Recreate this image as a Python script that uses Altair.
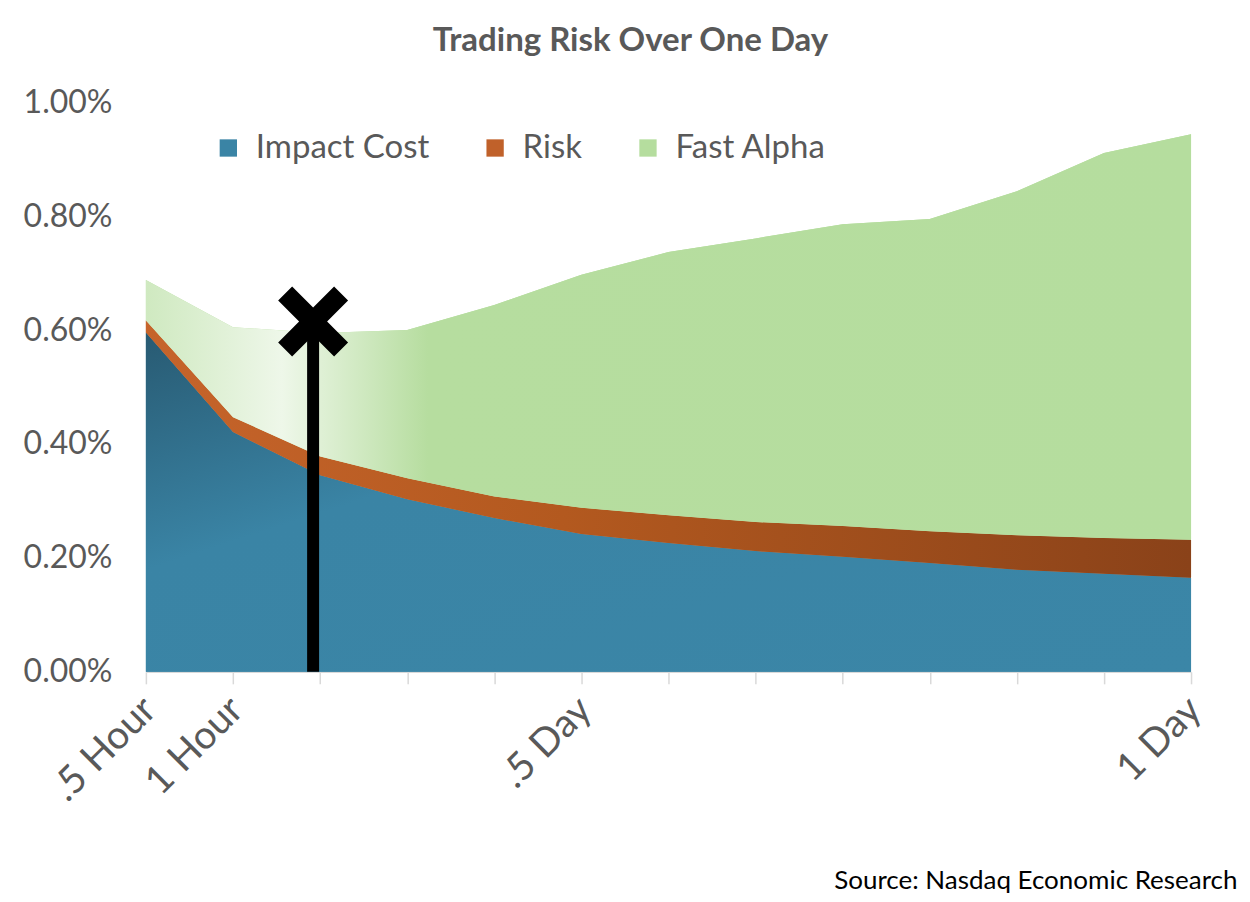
import altair as alt
import pandas as pd

# ---- data (values in percent) ----
tick_labels = [".5 Hour", "1 Hour", "", "", "", ".5 Day", "", "", "", "", "", "", "1 Day"]
impact_cost = [0.596, 0.421, 0.345, 0.303, 0.270, 0.242, 0.226, 0.212, 0.202, 0.191, 0.179, 0.172, 0.165]
risk        = [0.021, 0.026, 0.033, 0.037, 0.038, 0.046, 0.049, 0.051, 0.054, 0.056, 0.061, 0.063, 0.067]
fast_alpha  = [0.071, 0.158, 0.217, 0.260, 0.336, 0.409, 0.462, 0.498, 0.530, 0.548, 0.604, 0.676, 0.712]
series_names = ["Impact Cost", "Risk", "Fast Alpha"]
series_colors = ["#3a84a5", "#c0612a", "#b5dd9e"]
marker_pos = [1.92]
marker_top = [0.615]

# ---- build stacked table ----
rows = []
for i in range(len(tick_labels)):
    lo = 0.0
    for name, vals in zip(series_names, [impact_cost, risk, fast_alpha]):
        hi = lo + vals[i]
        rows.append({"idx": i, "series": name, "lo": lo, "hi": hi})
        lo = hi
df = pd.DataFrame(rows)
marker_df = pd.DataFrame({"idx": marker_pos, "lo": [0.0], "hi": marker_top})

grey = "#595959"
label_expr = "[" + ",".join("'" + t + "'" for t in tick_labels) + "][datum.value]"

x_enc = alt.X("idx:Q",
              scale=alt.Scale(domain=[0, 12], nice=False, zero=False),
              axis=alt.Axis(values=list(range(13)), labelExpr=label_expr, labelAngle=-45,
                            labelFontSize=39, labelColor=grey, labelFont="Lato",
                            tickSize=12, tickColor="#d9d9d9", domainColor="#d9d9d9",
                            domainWidth=1.5, tickWidth=1.5, labelOffset=-10,
                            labelOverlap=False, labelBound=False, grid=False, labelPadding=6,
                            title="Source: Nasdaq Economic Research", titleFont="Lato",
                            titleFontSize=26, titleFontWeight="normal", titleColor="#000000",
                            titleAnchor="end", titleAlign="right", titleBaseline="middle",
                            titleX=1092, titleY=209))
y_axis = alt.Axis(values=[0, 0.2, 0.4, 0.6, 0.8, 1.0],
                  labelExpr="format(datum.value, '.2f') + '%'",
                  labelFontSize=32, labelColor=grey, labelFont="Lato",
                  domain=False, ticks=False, grid=False, labelPadding=34, title=None)
y_scale = alt.Scale(domain=[0, 1.0], nice=False)
y_enc = alt.Y("lo:Q", scale=y_scale, axis=y_axis)

base = alt.Chart(df).mark_area(opacity=1).encode(
    x=x_enc,
    y=y_enc,
    y2="hi:Q",
    color=alt.Color("series:N",
                    scale=alt.Scale(domain=series_names, range=series_colors),
                    sort=series_names,
                    legend=alt.Legend(title=None, orient="none", direction="horizontal",
                                      legendX=66, legendY=29, symbolType="square",
                                      symbolSize=300, symbolStrokeWidth=0,
                                      labelFontSize=33, labelColor=grey, labelFont="Lato",
                                      labelLimit=400,
                                      columnPadding=49, labelOffset=11)),
)

gradients = {
    "Impact Cost": alt.Gradient(gradient="linear", x1=0, y1=0, x2=1, y2=1,
                                stops=[alt.GradientStop(offset=0, color="#285a72"),
                                       alt.GradientStop(offset=0.35, color="#3a84a5"),
                                       alt.GradientStop(offset=1, color="#3b86a7")]),
    "Risk": alt.Gradient(gradient="linear", x1=0, y1=0, x2=1, y2=0,
                         stops=[alt.GradientStop(offset=0, color="#c6642b"),
                                alt.GradientStop(offset=0.4, color="#b3591f"),
                                alt.GradientStop(offset=1, color="#8a4219")]),
    "Fast Alpha": alt.Gradient(gradient="linear", x1=0, y1=0, x2=1, y2=0,
                               stops=[alt.GradientStop(offset=0, color="#cfe9c0"),
                                      alt.GradientStop(offset=0.13, color="#eef7e9"),
                                      alt.GradientStop(offset=0.27, color="#b6dd9f"),
                                      alt.GradientStop(offset=1, color="#b5dd9e")]),
}

overlays = []
for name in series_names:
    overlays.append(
        alt.Chart(df).transform_filter(alt.datum.series == name)
        .mark_area(color=gradients[name], opacity=1)
        .encode(x=x_enc, y=y_enc, y2="hi:Q")
    )

rule = alt.Chart(marker_df).mark_rule(color="black", strokeWidth=12).encode(
    x=x_enc, y=y_enc, y2="hi:Q")

x_shape = "M-1,-0.6L-0.6,-1L0,-0.4L0.6,-1L1,-0.6L0.4,0L1,0.6L0.6,1L0,0.4L-0.6,1L-1,0.6L-0.4,0Z"
cross = alt.Chart(marker_df).mark_point(shape=x_shape, filled=True, color="black",
                                        size=4900, opacity=1).encode(
    x=x_enc, y=alt.Y("hi:Q", scale=y_scale, axis=y_axis))

chart = alt.layer(base, *overlays, rule, cross).properties(
    width=1046, height=570,
    title=alt.TitleParams("Trading Risk Over One Day", fontSize=33, fontWeight="bold",
                          color=grey, font="Lato", anchor="middle", offset=28, dx=-38),
    padding={"left": 15, "top": 17, "right": 5, "bottom": 0},
).configure_view(stroke=None)

chart.save("out.html", embed_options={"renderer": "svg", "actions": False})
